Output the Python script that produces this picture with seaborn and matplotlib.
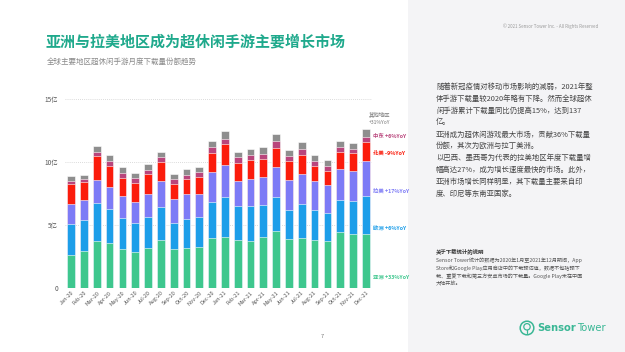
import matplotlib
matplotlib.use("Agg")
import matplotlib.pyplot as plt
from matplotlib.patches import Rectangle, Circle
import matplotlib.transforms as mtransforms
import pandas as pd
import seaborn as sns

# Monthly downloads (亿) per region
months = [
    "Jan-20", "Feb-20", "Mar-20", "Apr-20", "May-20", "Jun-20",
    "Jul-20", "Aug-20", "Sep-20", "Oct-20", "Nov-20", "Dec-20",
    "Jan-21", "Feb-21", "Mar-21", "Apr-21", "May-21", "Jun-21",
    "Jul-21", "Aug-21", "Sep-21", "Oct-21", "Nov-21", "Dec-21",
]
asia = [2.62, 2.94, 3.76, 3.54, 3.12, 2.88, 3.17, 3.78, 3.10, 3.17, 3.28, 3.97,
        4.02, 3.78, 3.76, 4.05, 4.55, 3.89, 3.94, 3.78, 3.76, 4.44, 4.29, 4.29]
europe = [2.43, 2.48, 3.01, 2.70, 2.46, 2.25, 2.46, 2.65, 2.09, 2.31, 2.38, 2.88,
          3.23, 2.75, 2.72, 2.51, 2.65, 2.33, 2.73, 2.44, 2.17, 2.54, 2.64, 3.04]
latam = [1.62, 1.56, 1.80, 1.75, 1.70, 1.67, 1.83, 2.04, 1.87, 1.98, 1.83, 2.33,
         2.49, 1.96, 2.14, 2.25, 2.43, 2.35, 2.38, 2.27, 2.22, 2.46, 2.36, 2.72]
north_america = [1.58, 1.46, 1.88, 1.72, 1.48, 1.51, 1.56, 1.50, 1.22, 1.22, 1.32, 1.56,
                 1.69, 1.40, 1.51, 1.40, 1.51, 1.48, 1.53, 1.22, 1.11, 1.33, 1.40, 1.54]
middle_east = [0.24, 0.21, 0.37, 0.40, 0.37, 0.39, 0.37, 0.40, 0.34, 0.31, 0.40, 0.45,
               0.42, 0.48, 0.40, 0.40, 0.50, 0.40, 0.45, 0.37, 0.40, 0.45, 0.37, 0.42]
other = [0.37, 0.35, 0.42, 0.45, 0.50, 0.40, 0.42, 0.45, 0.40, 0.43, 0.42, 0.48,
         0.58, 0.42, 0.50, 0.58, 0.58, 0.53, 0.56, 0.50, 0.47, 0.45, 0.42, 0.58]

series_names = ["亚洲", "欧洲", "拉美", "北美", "中东", "其他地区"]
series_labels = ["亚洲 +33%YoY", "欧洲 +6%YoY", "拉美 +17%YoY", "北美 -9%YoY", "中东 +6%YoY"]
colors = ["#3ec78e", "#1d9ee9", "#7d7bf6", "#fb1c0c", "#b9457c", "#8e8e8e"]

yticks = [0, 5, 10, 15]
ytick_labels = ["0", "5亿", "10亿", "15亿"]

# Build the table and cumulative stack heights
df = pd.DataFrame({
    "month": months, "亚洲": asia, "欧洲": europe, "拉美": latam,
    "北美": north_america, "中东": middle_east, "其他地区": other,
})
cum = df[series_names].cumsum(axis=1)
cum["month"] = df["month"]

sns.set_style("white")
plt.rcParams["font.family"] = ["Noto Sans CJK SC", "DejaVu Sans"]

W, H = 625, 352
fig = plt.figure(figsize=(W / 100, H / 100), dpi=100)


def fx(px):
    return px / W


def fy(py):
    return 1 - py / H


# Right grey panel (as a background axes so it stays behind everything)
bg = fig.add_axes([fx(408), 0, fx(W - 408), 1], zorder=-5)
bg.set_facecolor("#f4f4f6")
bg.set_xticks([])
bg.set_yticks([])
for s in bg.spines.values():
    s.set_visible(False)

# Title and subtitle
fig.text(fx(46), fy(41), "亚洲与拉美地区成为超休闲手游主要增长市场", fontsize=10.8,
         fontweight="bold", color="#1fa98c", va="center", ha="left")
fig.text(fx(47), fy(62), "全球主要地区超休闲手游月度下载量份额趋势", fontsize=5.4,
         color="#8a8a8a", va="center", ha="left")

# Chart
ax = fig.add_axes([fx(64.8), fy(288), fx(372.2 - 64.8), (288 - 99) / H])
for name, c in reversed(list(zip(series_names, colors))):
    sns.barplot(data=cum, x="month", y=name, color=c, saturation=1, width=0.6,
                edgecolor="white", linewidth=0.4, ax=ax, zorder=3)

ax.set_ylim(0, 15)
ax.set_xlim(-0.5, len(months) - 0.5)
ax.set_yticks(yticks)
ax.set_yticklabels(ytick_labels)
ax.set_xlabel("")
ax.set_ylabel("")
ax.yaxis.grid(True, linestyle=(0, (1, 1.5)), color="#cfcfcf", linewidth=0.6, zorder=0)
ax.set_axisbelow(True)
for s in ax.spines.values():
    s.set_visible(False)
ax.tick_params(axis="y", labelsize=4.6, colors="#555555", length=0, pad=5)
ax.tick_params(axis="x", labelsize=4, colors="#555555", length=0, pad=1.5)
plt.setp(ax.get_xticklabels(), rotation=45, ha="right", rotation_mode="anchor")

# Series labels at right of last bar
trans = mtransforms.blended_transform_factory(ax.transAxes, ax.transData)
label_y = [0.87, 4.68, 7.7, 10.71, 12.06]
for txt, yv, c in zip(series_labels, label_y, colors):
    ax.text(1.002, yv, txt, transform=trans, fontsize=3.9, color=c,
            fontweight="bold", va="center", ha="left")
ax.text(1.025, 13.8, "其他地区", transform=trans, fontsize=3.9, color="#777777",
        va="center", ha="center")
ax.text(1.025, 13.1, "+31%YoY", transform=trans, fontsize=3.6, color="#777777",
        va="center", ha="center")

# Right panel texts
fig.text(fx(598), fy(26), "© 2021 Sensor Tower Inc. - All Rights Reserved", fontsize=3.2,
         color="#9a9a9a", ha="right", va="center")

paragraph = [
    "随着新冠疫情对移动市场影响的减弱，2021年整",
    "体手游下载量较2020年略有下降。然而全球超休",
    "闲手游累计下载量同比仍提高15%，达到137",
    "亿。",
    "亚洲成为超休闲游戏最大市场，贡献36%下载量",
    "份额，其次为欧洲与拉丁美洲。",
    "以巴西、墨西哥为代表的拉美地区年度下载量增",
    "幅高达27%，成为增长速度最快的市场。此外，",
    "亚洲市场增长同样明显，其下载量主要来自印",
    "度、印尼等东南亚国家。",
]
for i, line in enumerate(paragraph):
    fig.text(fx(436), fy(86.7 + i * 11.9), line, fontsize=5.3, color="#444444",
             ha="left", va="center")

fig.text(fx(436), fy(251.5), "关于下载统计的说明", fontsize=3.9, fontweight="bold",
         color="#333333", ha="left", va="center")
notes = [
    "Sensor Tower统计的数据为2020年1月至2021年12月期间，App",
    "Store和Google Play应用商店中的下载预估值，数据不包括预下",
    "载、重复下载和第三方安卓市场的下载量。Google Play未在中国",
    "大陆开放。",
]
for i, line in enumerate(notes):
    fig.text(fx(436), fy(260 + i * 7.8), line, fontsize=3.7, color="#555555",
             ha="left", va="center")

# Sensor Tower logo
teal = "#3ab795"
logo_ax = fig.add_axes([fx(519), fy(336), fx(16), 16 / H], zorder=5)
logo_ax.set_xlim(-1, 1)
logo_ax.set_ylim(-1, 1)
logo_ax.set_aspect("equal")
logo_ax.axis("off")
logo_ax.add_patch(Circle((0, 0), 0.85, fill=False, edgecolor=teal, linewidth=1.1))
logo_ax.add_patch(Circle((0, 0.15), 0.4, fill=False, edgecolor=teal, linewidth=0.9))
logo_ax.plot([0, 0], [-0.25, -0.6], color=teal, linewidth=0.9)

t1 = fig.text(fx(537), fy(328), "Sensor", fontsize=7.2, fontweight="bold", color=teal,
              ha="left", va="center", family="DejaVu Sans")
renderer = fig.canvas.get_renderer()
bb = t1.get_window_extent(renderer)
fig.text(fx(bb.x1 + 1.5), fy(328), "Tower", fontsize=7.2, color=teal,
         ha="left", va="center", family="DejaVu Sans")

# Page number
fig.text(fx(322), fy(336), "7", fontsize=4, color="#777777", ha="center", va="center")

fig.savefig("out.png", dpi=100)
